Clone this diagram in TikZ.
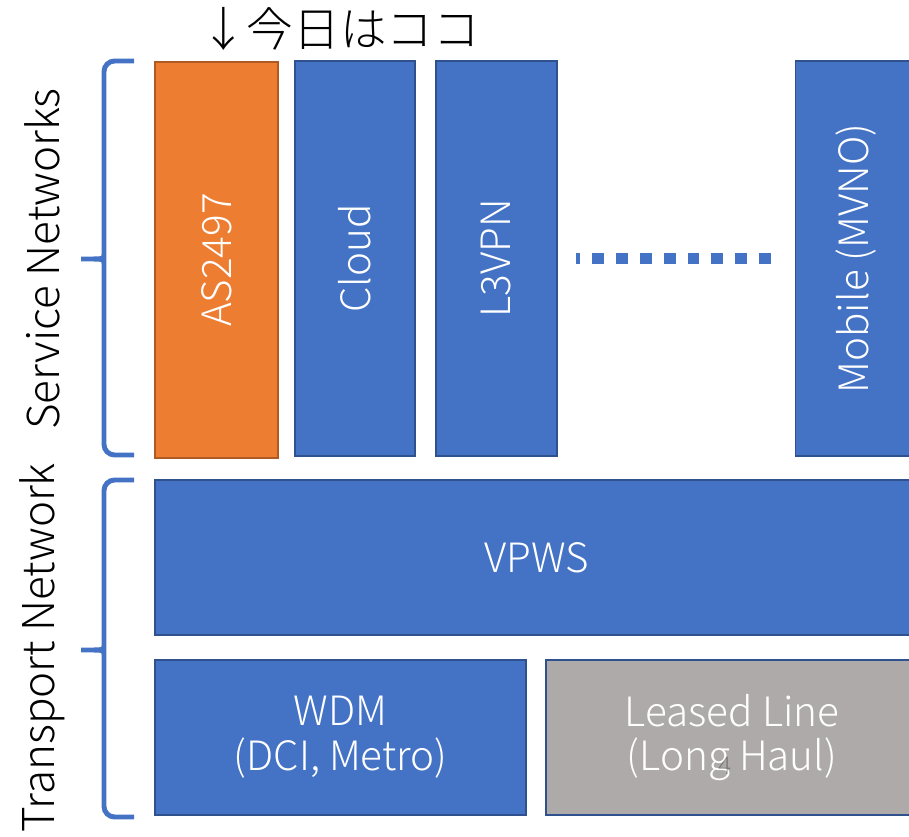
\documentclass[tikz,border=0pt]{standalone}
\usepackage{fontspec}
\setmainfont{Noto Sans CJK JP}[UprightFont=* Light]
\usepackage{tikz}

\definecolor{boxblue}{HTML}{4472C4}
\definecolor{edgeblue}{HTML}{2F528F}
\definecolor{boxorange}{HTML}{ED7D31}
\definecolor{edgeorange}{HTML}{AE5A21}
\definecolor{boxgray}{HTML}{AEAAAA}

\tikzset{
  netbox/.style={draw=edgeblue, fill=boxblue, line width=1.1pt, text=white,
    inner sep=0pt, align=center, font=\fontsize{23}{25.5}\selectfont},
  svcbox/.style={netbox, minimum width=2.42cm, minimum height=7.9cm},
  wirebox/.style={netbox, minimum height=3.1cm},
  bracket/.style={draw=boxblue, line width=2.8pt, rounded corners=6pt},
  sidelabel/.style={rotate=90, font=\fontsize{25}{28}\selectfont},
}

\begin{document}
\begin{tikzpicture}[x=0.02cm, y=-0.02cm]
  \useasboundingbox (0,0) rectangle (909,837);
  \clip (0,0) rectangle (909,837);

  % Service Networks
  \node[svcbox, fill=boxorange, draw=edgeorange, minimum width=2.46cm, minimum height=7.92cm]
    (as) at (216.5,260) {\rotatebox{90}{AS2497}};
  \node[svcbox, minimum width=2.4cm] (cloud) at (355,258.5) {\rotatebox{90}{Cloud}};
  \node[svcbox] (l3vpn) at (496.5,258.5) {\rotatebox{90}{L3VPN}};
  \node[svcbox] (mobile) at (856,258.5) {\rotatebox{90}{Mobile (MVNO)}};
  \draw[boxblue, line width=6.8pt, dash pattern=on 6.8pt off 6.8pt, dash phase=4.5pt]
    ([xshift=0.36cm]l3vpn.east) -- ([xshift=-0.48cm]mobile.west);

  % Transport Network
  \node[wirebox, minimum width=15.28cm] (vpws) at (537,557.5) {VPWS};
  \node[wirebox, minimum width=7.42cm] (wdm) at (340.5,737.5) {WDM\\(DCI, Metro)};
  \node[wirebox, minimum width=7.44cm, fill=boxgray] (leased) at (732,737.5) {Leased Line\\(Long Haul)};
  \node[text=black, opacity=0.3, font=\fontsize{14}{16}\selectfont] (pageno) at (725,766) {4};

  % braces
  \draw[bracket] (134,61) -- (104,61) -- (104,253)
    .. controls (104,259) .. (75,259) .. controls (104,259) .. (104,265)
    -- (104,455) -- (134,455);
  \draw[bracket] (134,480) -- (104,480) -- (104,644)
    .. controls (104,650) .. (75,650) .. controls (104,650) .. (104,656)
    -- (104,817) -- (134,817);

  \node[sidelabel] (svclabel) at (42,259) {Service Networks};
  \node[sidelabel] (trlabel) at (42,648) {Transport Network};
  \node[font=\fontsize{26.5}{29}\selectfont] (today) at (340,29) {↓今日はココ};
\end{tikzpicture}
\end{document}
